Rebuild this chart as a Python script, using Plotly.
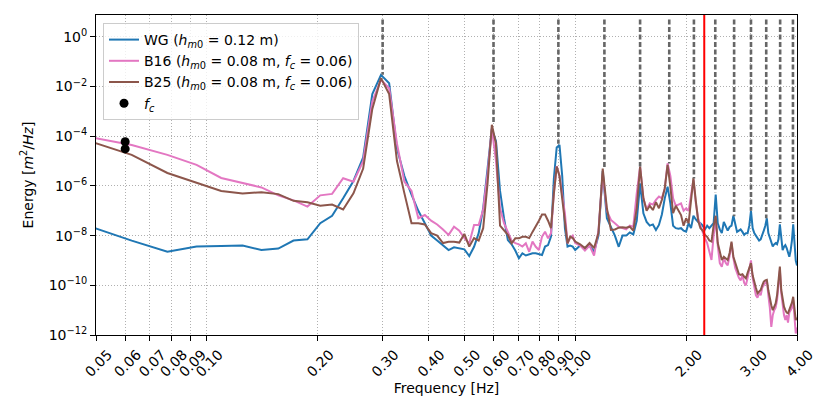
import numpy as np
import plotly.graph_objects as go

# ---------------- data ----------------
# frequency bins: 1/64 Hz spacing up to 1 Hz, 1/32 Hz spacing above 1 Hz
freq_low = [k / 64 for k in range(3, 65)]
freq_high = [k / 32 for k in range(33, 129)]
frequency = freq_low + freq_high

# log10 of the spectral energy [m^2/Hz]
wg_log10 = [
    -7.57, -8.2, -8.65, -8.44, -8.42, -8.40, -8.58, -8.52, -8.2, -8.15,
    -7.5, -7.2, -6.5, -5.8, -4.85, -2.3, -1.53, -1.87, -4.5, -5.6,
    -6.35, -7.0, -7.5, -8.0, -8.2, -8.4, -8.58, -8.47, -8.5, -8.55,
    -8.82, -8.45, -7.9, -6.9, -5.3, -3.7, -4.2, -6.2, -7.3, -8.18,
    -8.35, -8.6, -8.91, -8.71, -8.8, -8.75, -8.71, -8.71, -8.75, -8.78,
    -8.44, -8.38, -8.04, -5.7, -4.45, -4.35, -5.6, -7.7, -8.44, -8.4,
    -8.44, -8.58,
    -8.4, -8.5, -8.4, -8.65, -8.0, -5.4, -7.3, -7.64, -8.0, -8.45,
    -8.0, -8.0, -7.87, -7.95, -7.4, -5.9, -7.1, -7.45, -7.6, -7.55,
    -7.77, -7.57, -7.15, -6.5, -6.03, -6.7, -7.6, -7.7, -7.72, -7.7,
    -7.8, -7.84,
    -7.5, -7.7, -7.2, -7.35, -7.45, -7.5, -7.6, -7.75, -7.6, -7.7,
    -7.6, -7.5, -6.35, -7.5, -7.75, -7.9, -7.45, -7.6, -7.8, -7.65,
    -7.6, -7.2, -7.6, -7.85, -7.8, -7.75, -7.85, -7.97, -7.9, -7.9,
    -7.6, -7.0, -7.7, -7.9, -8.0, -8.1, -8.2, -8.15, -8.0, -7.8,
    -7.6, -7.3, -7.9, -8.1, -8.3, -8.44, -8.35, -8.3, -8.35, -8.15,
    -7.55, -8.2, -8.58, -8.45, -8.38, -8.5, -8.7, -8.85, -8.6, -8.2,
    -7.55, -8.3, -9.0, -9.2,
]

b16_log10 = [
    -4.0, -4.35, -4.75, -5.15, -5.68, -5.88, -6.06, -6.38, -6.58, -6.83,
    -6.38, -6.32, -5.69, -5.83, -5.0, -2.6, -1.73, -2.07, -4.3, -5.83,
    -6.2, -7.3, -7.17, -7.4, -7.55, -7.75, -7.97, -7.64, -7.8, -8.1,
    -8.31, -7.57, -7.57, -6.95, -5.5, -3.68, -5.0, -6.9, -7.5, -7.85,
    -8.2, -8.3, -8.35, -8.44, -8.31, -8.65, -8.24, -8.45, -8.58, -8.04,
    -7.84, -8.11, -7.9, -6.3, -5.2, -5.6, -6.3, -7.1, -8.31, -8.1,
    -8.0, -8.3,
    -8.4, -8.6, -8.4, -8.8, -7.8, -5.5, -7.0, -7.37, -7.5, -7.64,
    -7.7, -7.75, -7.6, -7.64, -6.3, -5.22, -6.5, -6.95, -6.7, -6.75,
    -6.56, -6.43, -6.5, -6.1, -5.09, -5.6, -6.5, -6.8, -6.75, -6.7,
    -7.0, -6.9,
    -7.0, -6.4, -5.75, -6.7, -7.3, -7.6, -7.9, -8.11, -8.3, -8.71,
    -8.98, -8.0, -7.3, -8.4, -9.11, -9.25, -8.9, -9.1, -9.2, -8.8,
    -8.3, -8.9, -9.3, -9.5, -9.7, -9.8, -9.6, -9.9, -10.0, -9.7,
    -9.3, -9.0, -9.7, -10.1, -10.4, -10.5, -10.3, -10.4, -10.1, -10.0,
    -9.9, -9.8, -10.4, -10.9, -11.67, -11.2, -11.0, -10.9, -10.6, -10.0,
    -9.4, -10.3, -10.8, -11.2, -11.4, -11.2, -11.5, -11.1, -11.0, -10.9,
    -10.6, -11.3, -11.94, -11.7,
]

b25_log10 = [
    -4.15, -4.75, -5.48, -5.88, -6.2, -6.30, -6.25, -6.33, -6.6, -6.66,
    -6.8, -6.75, -6.95, -6.3, -5.3, -2.9, -1.66, -2.3, -5.0, -6.3,
    -7.5, -7.5, -7.55, -7.9, -8.0, -8.3, -8.25, -8.25, -8.28, -7.93,
    -8.44, -8.1, -8.2, -7.7, -5.9, -3.54, -4.3, -7.6, -7.77, -7.97,
    -8.31, -8.11, -8.11, -8.05, -8.05, -8.1, -7.85, -7.65, -7.4, -7.15,
    -7.15, -7.4, -7.7, -6.3, -5.22, -5.6, -6.5, -7.3, -8.31, -8.04,
    -8.1, -8.24,
    -8.35, -8.5, -8.3, -8.5, -7.9, -5.3, -6.9, -7.77, -7.75, -7.68,
    -7.66, -7.68, -7.64, -7.8, -6.9, -5.22, -6.5, -7.0, -6.8, -6.97,
    -6.65, -6.9, -6.56, -6.1, -5.15, -6.03, -7.1, -6.8, -7.0, -7.17,
    -7.6, -7.3,
    -7.5, -6.6, -5.69, -6.6, -7.4, -7.7, -7.8, -7.97, -8.05, -8.2,
    -8.24, -7.6, -7.2, -8.3, -8.71, -8.98, -8.85, -8.9, -8.98, -8.7,
    -8.24, -8.85, -9.1, -9.3, -9.55, -9.58, -9.55, -9.65, -9.72, -9.5,
    -9.25, -9.11, -9.6, -9.92, -10.1, -10.32, -10.25, -10.19, -10.0, -9.85,
    -9.8, -9.78, -10.2, -10.59, -10.8, -11.0, -10.85, -10.73, -10.4, -9.8,
    -9.25, -10.19, -10.6, -10.86, -11.0, -11.1, -11.13, -11.0, -10.86, -10.7,
    -10.46, -10.9, -11.4, -11.3,
]

fc_freq = [0.06, 0.06]
fc_energy = [6.0e-5, 3.1e-5]

harmonic_freq = [0.3, 0.6, 0.9, 1.2, 1.5, 1.8, 2.1, 2.4, 2.7, 3.0, 3.3, 3.6, 3.9]
harmonic_level = [3e-2, 3.5e-4, 5e-5, 5e-6, 6e-6, 8e-6, 2e-6, 5.6e-7,
                  6e-8, 1e-7, 5e-8, 3.2e-8, 3.2e-8]
harmonic_top = 5.0
cutoff_freq = 2.24

xtick_vals = [0.05, 0.06, 0.07, 0.08, 0.09, 0.10, 0.20, 0.30, 0.40, 0.50,
              0.60, 0.70, 0.80, 0.90, 1.00, 2.00, 3.00, 4.00]
xtick_text = ["%.2f" % v for v in xtick_vals]
ytick_exp = [0, -2, -4, -6, -8, -10, -12]

# ---------------- figure ----------------
wg = np.power(10.0, wg_log10)
b16 = np.power(10.0, b16_log10)
b25 = np.power(10.0, b25_log10)

FONT = "DejaVu Sans"
fig = go.Figure()

fig.add_trace(go.Scatter(x=frequency, y=wg, mode="lines",
                         line=dict(color="#1f77b4", width=2),
                         name="WG (<i>h</i><sub><i>m</i>0</sub> = 0.12 m)"))
fig.add_trace(go.Scatter(x=frequency, y=b16, mode="lines",
                         line=dict(color="#e377c2", width=2),
                         name="B16 (<i>h</i><sub><i>m</i>0</sub> = 0.08 m, <i>f</i><sub><i>c</i></sub> = 0.06)"))
fig.add_trace(go.Scatter(x=frequency, y=b25, mode="lines",
                         line=dict(color="#8c564b", width=2),
                         name="B25 (<i>h</i><sub><i>m</i>0</sub> = 0.08 m, <i>f</i><sub><i>c</i></sub> = 0.06)"))

# harmonic dashed lines
hx, hy = [], []
for f, lv in zip(harmonic_freq, harmonic_level):
    hx += [f, f, None]
    hy += [harmonic_top, lv, None]
fig.add_trace(go.Scatter(x=hx, y=hy, mode="lines", showlegend=False,
                         line=dict(color="#666666", width=2.6, dash="5px,2.5px"),
                         hoverinfo="skip"))

# cut-off frequency (red)
fig.add_trace(go.Scatter(x=[cutoff_freq, cutoff_freq], y=[1e-12, 10 ** 0.88],
                         mode="lines", showlegend=False,
                         line=dict(color="#ff0000", width=2), hoverinfo="skip"))

fig.add_trace(go.Scatter(x=fc_freq, y=fc_energy, mode="markers",
                         marker=dict(color="black", size=9),
                         name="<i>f</i><sub><i>c</i></sub>"))

axis_common = dict(showline=True, linecolor="black", linewidth=1, mirror=True,
                   ticks="outside", ticklen=5, tickcolor="black", tickwidth=1,
                   showgrid=True, gridcolor="#b0b0b0", griddash="1px,2px", gridwidth=1,
                   zeroline=False, automargin=False,
                   tickfont=dict(family=FONT, size=14, color="black"))

fig.update_xaxes(type="log", range=[np.log10(0.05), np.log10(4.0)],
                 tickvals=xtick_vals, ticktext=xtick_text, tickangle=-45,
                 ticklabelshift=12,
                 title=dict(text="Frequency [Hz]", font=dict(family=FONT, size=14, color="black"),
                            standoff=2),
                 **axis_common)
fig.update_yaxes(type="log", range=[-12, 0.88],
                 tickvals=[10.0 ** e for e in ytick_exp],
                 ticktext=["10<sup>%s</sup>" % (str(e).replace("-", "\u2212")) for e in ytick_exp],
                 title=dict(text="Energy [<i>m</i><sup>2</sup>/<i>Hz</i>]",
                            font=dict(family=FONT, size=14, color="black"), standoff=11),
                 **axis_common)

# the page body adds an 8 px offset, so the figure is 8 px smaller and margins adjusted
fig.update_layout(
    width=822, height=407,
    margin=dict(l=88, r=33, t=7, b=80),
    paper_bgcolor="white", plot_bgcolor="white",
    font=dict(family=FONT, size=14, color="black"),
    legend=dict(x=0.01, y=0.975, xanchor="left", yanchor="top",
                bgcolor="rgba(255,255,255,0.8)", bordercolor="#cccccc", borderwidth=1,
                font=dict(family=FONT, size=14, color="black"), itemwidth=30),
    showlegend=True,
)

fig.write_html("out.html")
